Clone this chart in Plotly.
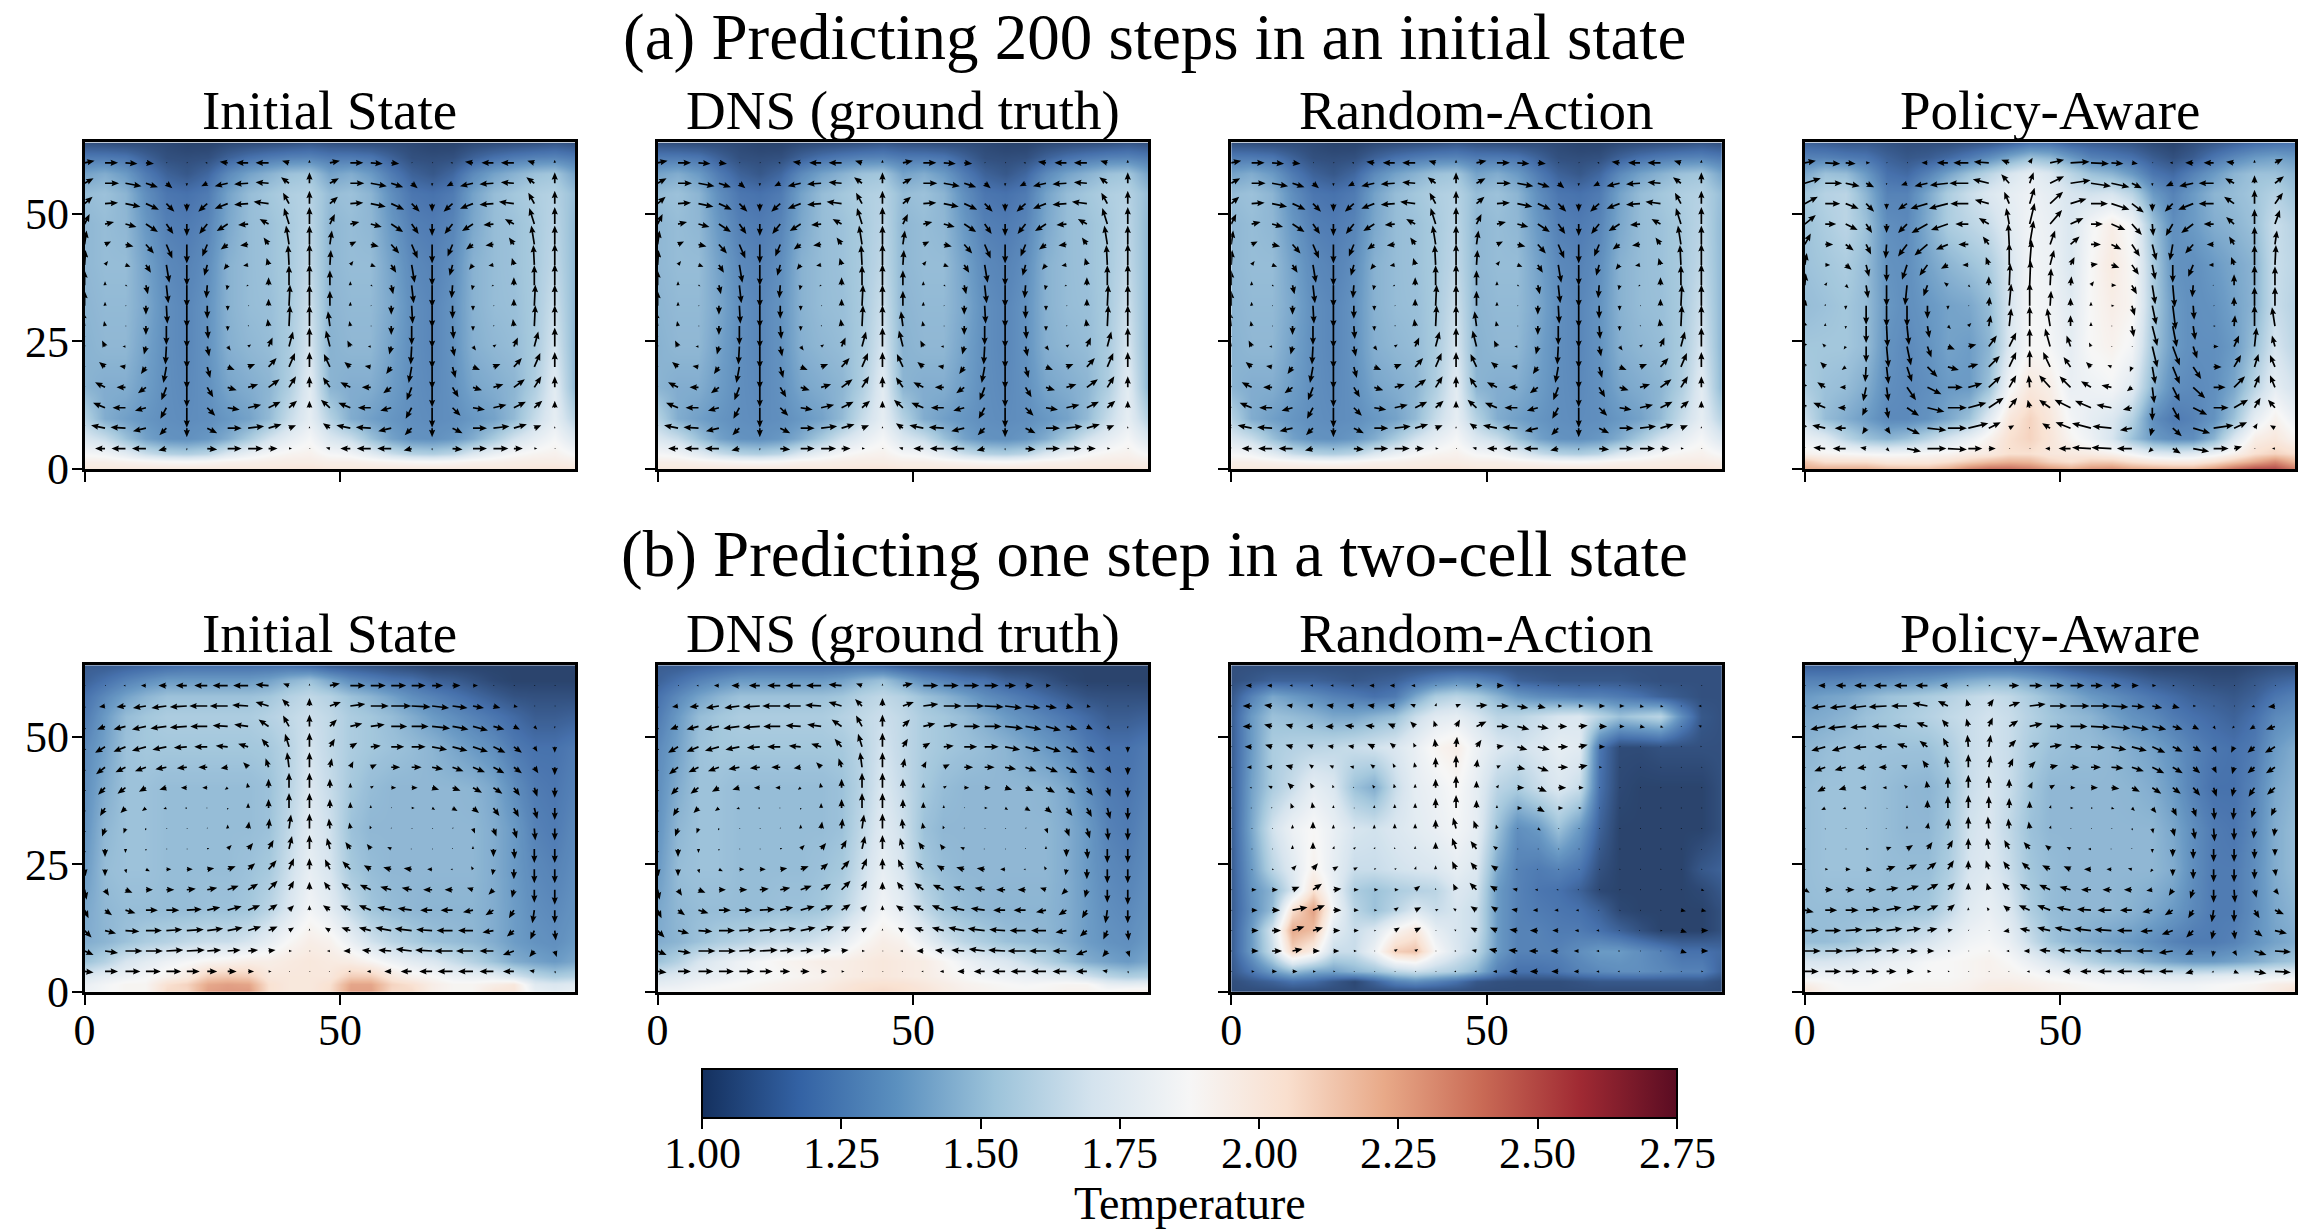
import numpy as np
import plotly.graph_objects as go

# Canvas and panel placement, in pixels
WIDTH, HEIGHT = 2312, 1230
PANEL_LEFT = [84.6, 657.6, 1231.2, 1804.8]
PANEL_W = 490.6
ROW_TOP = [142.4, 665.2]
PANEL_H = 326.6
PX_PER_UNIT = PANEL_W / 96.0

SERIF = "Liberation Serif"
COLUMN_TITLES = ["Initial State", "DNS (ground truth)", "Random-Action", "Policy-Aware"]
ROW_TITLES = ["(a) Predicting 200 steps in an initial state",
              "(b) Predicting one step in a two-cell state"]
X_TICKS = [0, 50]
Y_TICKS = [0, 25, 50]
CBAR_TICKS = [1.0, 1.25, 1.5, 1.75, 2.0, 2.25, 2.5, 2.75]
CBAR_LABELS = ["1.00", "1.25", "1.50", "1.75", "2.00", "2.25", "2.50", "2.75"]
CBAR_TITLE = "Temperature"

TEMP_COLORS = ["#14305e", "#3362a4", "#5b90bf", "#9cc3da", "#d4e3ee", "#f6f6f6",
               "#f9dfce", "#e8a988", "#c96a55", "#a02a33", "#5a0c22"]

# Velocity sample positions
ARROW_X = list(range(0, 96, 4))
ARROW_Y = list(range(60, 0, -4))

# Temperature sample positions (hundredths of a degree below), rows listed top to bottom
TEMP_X = list(range(0, 100, 4))
TEMP_Y = [64, 61, 58, 54, 48, 40, 32, 24, 16, 10, 6, 3, 1.5, 0]
RANDOM_TEMP_Y = [64, 61, 58, 54, 48, 40, 32, 24, 20, 16, 12, 8, 4, 2, 0]

# Four-cell state: one 48-unit wide pair of rolls, repeated across the box
four_cell_temp = [
    [105,104,103,103,102,100,100,102,103,104,105,107],
    [122,122,120,112,105,104,105,112,118,122,125,126],
    [138,142,135,122,112,108,114,128,138,144,150,152],
    [148,150,145,130,120,118,122,138,148,152,156,158],
    [146,148,146,134,124,122,126,140,148,150,154,160],
    [146,148,148,138,128,125,130,144,148,150,154,162],
    [145,147,147,140,130,127,132,144,148,149,154,166],
    [144,146,146,138,130,127,132,143,146,148,154,170],
    [145,142,142,136,130,128,131,139,142,145,156,176],
    [158,142,137,133,130,129,130,134,138,147,164,178],
    [172,165,150,138,132,131,134,142,154,168,178,186],
    [186,184,176,165,158,156,160,172,180,186,190,192],
    [194,194,192,190,188,187,189,192,193,195,196,196],
    [200,200,200,200,200,200,200,200,200,200,201,202],
]
four_cell_u = [
    [10,13,12,8,1,0,-2,-8,-12,-13,-7,0],
    [9,14,16,12,6,0,-6,-13,-14,-13,-8,0],
    [8,13,15,13,8,0,-9,-13,-14,-15,-6,0],
    [5,9,11,12,7,0,-8,-11,-10,-9,-5,0],
    [2,6,8,8,6,0,-5,-7,-8,-5,-3,0],
    [1,3,5,5,3,0,-3,-4,-5,-2,-1,0],
    [0,0,2,2,2,0,-1,-1,-2,0,0,0],
    [0,0,0,0,1,0,0,0,0,0,1,0],
    [-2,-1,0,0,0,0,1,0,1,-1,1,0],
    [-4,-3,-3,-2,-1,0,2,3,3,4,4,0],
    [-6,-6,-6,-5,-3,0,3,7,7,8,6,0],
    [-7,-10,-9,-8,-5,0,6,9,10,11,7,0],
    [-9,-12,-13,-11,-6,0,8,12,13,12,8,0],
    [-7,-14,-15,-13,-7,0,10,14,16,13,7,0],
    [-4,-10,-14,-14,-8,0,10,14,15,9,3,0],
]
four_cell_v = [
    [2,0,-1,-1,0,0,0,1,0,0,2,3],
    [5,0,-3,-4,-5,-3,-3,-3,-1,1,6,11],
    [7,1,-3,-6,-8,-8,-8,-5,-1,2,11,13],
    [10,2,-3,-8,-10,-12,-10,-7,-1,5,16,17],
    [14,3,-2,-9,-14,-19,-12,-5,-1,7,19,19],
    [15,4,-2,-8,-18,-21,-11,-5,-1,7,20,21],
    [15,4,-1,-9,-18,-22,-13,-5,-1,8,20,21],
    [15,4,0,-9,-18,-22,-13,-5,0,7,21,21],
    [15,5,0,-9,-19,-22,-13,-5,1,7,21,21],
    [16,6,0,-8,-18,-22,-10,-4,2,9,15,19],
    [13,5,1,-7,-16,-22,-11,-3,3,9,14,15],
    [10,5,0,-6,-13,-20,-10,-3,3,8,11,11],
    [8,5,0,-3,-11,-20,-8,-2,3,6,7,7],
    [5,3,1,-3,-7,-9,-5,0,2,4,3,2],
    [1,0,0,0,-2,-2,-1,0,0,0,0,0],
]

# Policy-aware prediction of the four-cell state
policy_a_temp = [
    [112,110,108,108,106,104,104,104,106,108,112,118,118,112,110,108,106,102,100,104,108,112,116,118,120],
    [125,125,122,120,112,108,110,115,122,130,140,150,146,135,125,122,118,110,105,110,120,128,135,138,135],
    [140,150,148,135,118,115,125,138,150,160,170,178,172,160,150,145,135,120,115,125,135,145,150,150,145],
    [152,158,160,145,125,125,140,155,165,172,178,182,178,170,168,170,160,135,125,135,145,148,152,158,150],
    [150,155,160,150,130,128,142,155,160,165,175,184,180,172,185,195,185,150,130,135,142,145,150,165,158],
    [150,152,155,148,132,130,138,145,150,155,170,185,182,172,188,198,188,155,132,130,135,140,145,165,160],
    [148,150,152,148,134,130,134,138,140,148,170,186,184,175,188,195,190,155,135,130,132,138,145,165,158],
    [152,152,152,148,132,128,132,138,136,145,172,188,186,178,188,192,185,152,135,130,130,135,150,170,160],
    [155,150,148,142,130,128,130,135,135,150,185,200,195,180,182,185,175,145,130,128,130,140,160,178,168],
    [165,148,142,136,128,128,132,140,150,175,200,210,200,185,178,172,158,130,122,125,132,150,178,192,180],
    [180,175,160,150,145,150,160,170,180,192,205,210,202,190,182,170,150,135,130,130,145,172,195,200,190],
    [192,190,188,186,185,186,188,190,195,198,205,205,200,198,196,192,185,175,172,175,182,192,205,210,205],
    [215,205,205,205,200,200,200,205,212,218,222,220,210,205,212,212,205,200,198,198,205,215,225,235,220],
    [225,225,225,225,220,218,218,225,238,245,245,240,232,225,232,235,228,225,222,222,232,245,255,255,240],
]
policy_a_u = [
    [11,15,10,4,0,0,-6,-11,-15,-15,-8,3,14,19,18,12,6,0,-3,-8,-10,-8,0,8],
    [16,17,14,8,0,-6,-13,-18,-19,-16,-8,4,14,20,20,18,10,0,-7,-14,-15,-9,0,9],
    [13,15,13,8,0,-9,-17,-19,-18,-14,-5,5,13,16,17,18,12,0,-8,-15,-15,-10,0,8],
    [11,11,12,6,0,-9,-16,-17,-13,-10,-3,5,12,13,12,14,10,1,-7,-12,-10,-8,0,5],
    [6,8,8,5,-1,-9,-13,-12,-10,-6,-1,4,5,9,10,10,8,4,-3,-8,-7,-5,0,2],
    [2,5,6,3,0,-5,-8,-7,-6,-3,0,2,4,4,7,8,7,3,0,-5,-5,-3,0,1],
    [1,2,3,2,0,-2,-4,-4,2,0,1,1,1,1,3,5,5,3,2,-1,-1,0,0,0],
    [1,0,0,0,0,0,0,0,0,1,2,0,1,0,0,3,3,4,3,1,0,0,0,0],
    [-2,0,0,0,1,2,2,3,3,2,2,0,-3,0,0,0,2,5,4,2,2,1,0,-3],
    [-4,-3,-2,0,2,4,4,7,8,8,7,0,-5,-4,-2,0,0,5,7,4,5,5,2,-3],
    [-4,-5,-4,-1,2,5,10,11,10,11,7,0,-7,-7,-5,-4,-2,3,7,8,8,7,4,-5],
    [-4,-8,-6,-3,2,9,14,15,14,12,7,-1,-11,-11,-10,-10,-5,2,7,12,12,11,5,-5],
    [-4,-12,-8,-4,2,12,17,19,18,15,8,-2,-11,-16,-16,-15,-9,0,7,14,15,14,6,-7],
    [-4,-13,-11,-4,4,13,19,19,20,12,5,0,-8,-15,-19,-19,-12,-2,9,17,20,13,3,-5],
    [-4,-12,-13,-6,3,14,19,19,14,7,1,1,-5,-12,-19,-20,-15,-4,8,16,15,8,0,-3],
]
policy_a_v = [
    [2,-1,-1,0,0,0,0,0,0,1,3,5,3,1,-1,-1,-1,0,0,0,0,1,3,4],
    [5,0,-3,-4,-2,-2,-3,-2,0,4,9,11,7,3,-3,-4,-5,-3,-3,-3,0,5,8,7],
    [7,0,-5,-8,-6,-6,-5,-5,0,4,12,16,12,5,0,-6,-9,-8,-8,-6,0,7,14,11],
    [9,0,-6,-9,-9,-9,-9,-6,0,6,16,21,14,6,0,-6,-11,-12,-12,-9,0,7,15,14],
    [11,0,-6,-10,-14,-12,-11,-5,0,8,21,24,14,8,0,-5,-12,-16,-16,-9,0,8,18,14],
    [12,0,-5,-12,-17,-15,-11,-4,0,8,22,25,15,8,1,-3,-10,-15,-18,-12,0,8,20,20],
    [12,3,-3,-13,-21,-20,-11,3,-2,9,22,25,17,9,4,0,-9,-19,-22,-12,0,11,20,19],
    [6,2,-4,-19,-21,-21,-13,-4,0,9,22,23,15,8,4,0,-10,-19,-24,-14,0,9,19,19],
    [6,3,-3,-17,-21,-19,-12,-3,3,11,18,20,18,11,4,0,-11,-20,-21,-14,0,11,21,19],
    [6,3,-3,-16,-21,-19,-11,-3,2,11,14,18,18,11,4,0,0,-21,-19,-12,0,11,19,11],
    [6,5,-3,-15,-17,-15,-10,-3,3,11,15,17,15,10,5,2,-5,-17,-17,-12,0,12,13,12],
    [6,5,0,-14,-14,-13,-7,0,4,11,12,12,12,11,6,2,-4,-16,-14,-11,0,11,12,12],
    [6,5,0,-8,-11,-8,-4,0,5,10,10,8,8,8,7,3,-2,-13,-13,-7,0,8,10,8],
    [6,3,0,-6,-6,-6,-2,0,5,6,3,1,5,6,5,2,-2,-8,-8,-5,3,6,5,3],
    [2,1,0,1,-3,-3,0,-1,0,0,0,0,0,0,1,1,0,-4,-5,-3,0,2,0,0],
]

# Two-cell state
two_cell_temp = [
    [110,110,112,114,116,118,118,118,118,118,118,115,110,108,106,104,102,100,100,100,100,100,100,100,100],
    [112,118,125,130,135,135,135,135,135,138,145,150,140,130,125,120,118,112,110,106,102,100,100,100,100],
    [118,128,138,145,150,150,150,150,150,152,158,162,158,150,145,138,130,125,120,115,110,106,105,105,105],
    [122,135,148,152,155,155,155,155,155,158,162,166,162,155,152,148,142,135,130,125,120,115,110,110,112],
    [128,138,150,152,152,152,152,152,152,153,159,169,162,155,152,150,148,145,140,135,130,122,118,118,122],
    [130,142,150,150,148,148,148,148,148,150,159,172,164,153,148,146,146,146,146,145,140,130,122,120,125],
    [132,146,150,150,148,148,148,148,148,150,162,175,167,150,146,146,146,146,146,146,142,135,125,122,128],
    [135,148,150,150,148,148,148,148,150,153,166,179,170,153,148,146,146,146,146,146,142,135,128,125,130],
    [140,146,148,148,148,148,150,150,152,160,172,185,177,163,152,148,146,145,145,145,142,136,130,128,132],
    [142,145,150,155,158,162,165,165,170,178,188,195,192,180,168,160,155,150,148,146,142,136,132,130,135],
    [150,158,170,176,182,186,190,192,195,195,198,200,198,196,190,182,176,172,165,158,150,142,138,135,140],
    [172,178,182,186,192,198,212,214,212,200,200,200,200,212,212,200,192,188,182,180,178,170,160,155,158],
    [180,185,190,190,205,210,225,228,226,205,200,200,205,226,226,210,205,195,190,190,195,200,175,172,175],
    [182,186,190,190,208,208,228,230,230,205,200,200,206,228,228,208,208,195,190,190,202,202,180,176,180],
]
# Lowest three rows of the direct simulation, which differ from the earlier snapshot
dns_bottom_temp = [
    [170,174,178,180,184,186,188,190,192,196,198,200,198,196,192,188,184,182,180,178,176,168,160,156,158],
    [178,180,184,186,188,190,192,194,196,200,204,205,204,200,196,192,190,188,186,188,190,190,180,178,180],
    [186,186,188,190,190,192,194,196,198,203,206,208,206,203,198,194,192,190,190,190,192,192,190,195,195],
]
two_cell_u = [
    [0,0,-2,-5,-8,-11,-13,-15,-15,-13,-6,0,10,15,15,15,14,11,8,5,1,0,0,0],
    [-3,-6,-9,-13,-15,-17,-18,-18,-16,-13,-7,0,11,15,18,20,19,17,15,11,7,4,1,0],
    [-6,-8,-12,-14,-16,-17,-17,-15,-14,-10,-6,0,7,12,14,16,17,18,16,15,11,6,3,0],
    [-6,-10,-12,-14,-14,-13,-13,-12,-10,-7,-4,0,5,7,10,13,14,15,15,15,12,8,3,0],
    [-6,-9,-10,-11,-11,-10,-9,-7,-5,-3,-2,0,2,3,6,9,10,11,11,12,11,8,4,0],
    [-6,-7,-8,-7,-7,-6,-5,-3,-1,0,0,0,0,0,3,5,6,7,8,9,9,6,3,0],
    [-6,-5,-5,-4,-3,-2,-1,0,0,0,0,0,0,0,0,1,3,3,5,6,6,5,3,0],
    [-6,-3,-2,-1,0,0,0,0,1,1,2,0,-1,-1,-1,0,0,1,1,2,3,3,1,0],
    [-6,0,0,0,0,1,2,4,5,5,3,0,-3,-5,-4,-4,-1,0,0,0,0,1,0,0],
    [1,0,1,4,5,6,7,8,7,8,5,0,-5,-8,-7,-8,-8,-5,-2,-2,-1,0,0,0],
    [2,4,7,7,8,9,10,11,10,9,5,0,-6,-9,-11,-11,-10,-9,-8,-6,-5,-2,0,0],
    [4,7,10,12,13,15,13,14,12,9,5,0,-7,-10,-12,-14,-14,-12,-12,-10,-8,-5,-2,0],
    [7,11,14,16,16,17,16,15,13,9,5,0,-5,-9,-12,-16,-17,-16,-16,-15,-11,-7,-4,1],
    [9,13,17,17,17,18,14,13,10,7,3,0,-3,-7,-9,-13,-16,-17,-18,-17,-14,-11,-5,2],
    [9,13,15,15,15,13,10,9,6,3,1,0,-1,-2,-4,-7,-11,-13,-15,-15,-14,-11,-5,1],
]
two_cell_v = [
    [0,0,0,0,0,0,0,0,0,1,2,2,2,0,0,0,0,0,0,0,0,0,0,0],
    [-3,-1,-1,-2,-2,-1,0,0,1,4,7,8,4,2,0,0,-1,-2,-2,-2,-2,-1,0,0],
    [-4,-3,-3,-3,-2,-1,0,1,2,7,11,12,7,3,2,0,0,-2,-3,-4,-3,-3,-3,-2],
    [-5,-6,-5,-4,-3,-1,0,1,3,8,13,14,8,4,1,0,0,-3,-4,-5,-6,-6,-5,-6],
    [-6,-7,-5,-4,-2,-1,0,-1,5,9,15,15,9,6,3,0,0,-2,-4,-5,-6,-6,-6,-8],
    [-6,-7,-6,-4,-2,0,0,-2,5,9,15,15,9,5,2,0,0,-2,-3,-5,-6,-8,-9,-10],
    [-6,-8,-5,-3,-1,0,0,-2,5,9,15,15,9,6,3,1,0,-2,-3,-5,-8,-9,-11,-12],
    [-6,-8,-5,-2,0,0,1,4,7,10,14,15,10,6,3,1,0,0,1,-5,-8,-10,-12,-12],
    [-6,-8,-4,-2,0,0,1,4,6,9,13,14,11,7,5,2,0,0,1,3,-8,-10,-14,-14],
    [-7,-7,-4,-2,0,0,1,3,6,9,11,11,10,8,4,2,1,0,0,3,-6,-10,-14,-14],
    [-10,-6,-3,0,0,1,2,4,6,9,9,8,8,7,5,3,2,0,0,2,-5,-8,-13,-15],
    [-8,-5,-3,0,0,1,3,4,5,6,5,5,5,5,5,3,2,0,0,-2,-5,-8,-13,-13],
    [-7,-3,-1,0,1,1,2,3,4,4,3,2,3,3,3,3,2,1,0,0,-2,-6,-9,-10],
    [-4,-2,0,0,1,1,1,1,1,1,0,0,0,0,1,1,2,1,0,0,0,-4,-6,-6],
    [-1,0,0,0,0,0,0,0,0,0,0,0,0,0,0,0,0,0,0,0,0,0,1,-2],
]

# Random-action prediction of the two-cell state
random_b_temp = [
    [105,105,105,105,105,105,105,105,105,105,105,105,105,105,105,105,105,105,105,105,105,105,105,105,105],
    [105,108,112,112,112,110,108,110,112,118,125,130,128,122,112,110,108,108,108,108,106,105,105,105,105],
    [108,125,140,135,130,125,122,118,122,140,155,160,155,145,135,130,128,125,125,122,118,112,108,105,105],
    [110,135,150,148,145,140,140,145,150,165,175,178,170,160,160,165,170,172,160,150,155,160,130,108,105],
    [110,135,155,158,160,162,165,168,172,180,190,195,182,172,168,172,178,175,120,103,103,105,105,105,105],
    [110,138,155,165,178,172,150,142,165,178,182,188,178,160,155,165,172,165,118,102,100,100,100,100,105],
    [110,140,168,182,188,180,170,168,172,176,180,185,178,150,130,135,150,135,112,100,100,100,100,100,105],
    [110,135,160,175,192,178,165,165,168,170,172,178,172,140,125,122,125,120,105,100,100,100,100,108,112],
    [110,132,145,170,205,180,155,150,155,158,160,172,168,135,125,120,118,112,102,100,100,100,100,102,108],
    [110,130,148,205,228,185,160,150,160,172,165,170,165,135,125,122,120,118,112,102,100,100,100,100,105],
    [110,135,170,225,218,175,165,172,190,200,178,170,165,135,125,125,122,122,118,112,105,100,100,100,105],
    [110,135,165,210,195,165,165,182,212,216,188,172,160,135,125,125,125,130,135,135,130,125,118,118,115],
    [108,120,135,148,140,138,145,150,160,165,160,155,145,125,118,118,120,125,128,130,130,128,125,125,112],
    [104,108,112,118,115,108,102,112,125,130,125,118,108,105,104,104,104,106,108,108,108,108,108,108,104],
    [103,103,103,103,103,103,103,103,103,103,103,103,103,103,103,103,103,103,103,103,103,103,103,103,103],
]
random_b_u = [
    [0,-6,-5,-3,-3,-3,-3,-5,-5,-4,0,0,6,7,3,1,1,0,0,0,0,0,0,0],
    [0,-9,-8,-6,-6,-7,-7,-7,-7,-5,1,5,11,12,11,8,4,5,6,5,4,3,0,-3],
    [0,-9,-8,-7,-7,-8,-9,-9,-7,-5,-2,4,10,12,12,11,9,9,8,5,5,3,0,-3],
    [0,-7,-7,-7,-6,-6,-6,-7,-5,-2,-1,1,5,7,10,12,10,9,6,1,1,0,0,-1],
    [0,-5,-6,-7,-4,-4,-4,-4,-2,-1,0,0,1,4,8,11,10,9,3,0,0,0,0,0],
    [0,-2,-4,-5,-3,-1,-1,-2,-1,0,0,0,0,2,7,9,8,5,1,0,0,0,0,0],
    [0,-1,-1,-2,-1,0,0,0,0,0,0,0,0,0,5,7,5,3,0,0,0,0,0,0],
    [0,0,0,0,0,0,1,0,0,0,0,-3,-3,-1,0,3,0,0,0,0,0,0,0,0],
    [0,0,0,0,0,1,2,1,0,0,0,-4,-6,-4,0,0,0,0,0,0,0,0,0,0],
    [0,1,2,4,5,5,4,2,2,1,0,-4,-6,-6,-2,-1,0,0,0,0,0,0,0,0],
    [0,5,6,7,9,8,5,4,4,5,0,-3,-7,-7,-5,-3,-2,-1,0,0,0,0,0,3],
    [0,6,8,15,12,8,5,3,4,6,3,-3,-6,-6,-6,-5,-4,-3,-1,0,0,0,5,5],
    [0,7,9,12,10,7,5,2,5,6,1,-2,-6,-7,-8,-8,-6,-4,-3,-1,-1,2,6,7],
    [0,7,10,10,7,6,3,1,3,3,0,-2,-5,-8,-9,-9,-8,-5,-3,-2,0,1,6,7],
    [0,3,5,5,3,2,1,1,1,1,0,-2,-2,-4,-8,-8,-7,-5,-3,-2,-1,0,0,2],
]
random_b_v = [
    [0,0,0,0,0,0,0,0,0,0,0,0,0,0,0,0,0,0,0,0,0,0,0,0],
    [0,0,1,1,1,1,1,1,1,2,3,2,1,0,-2,-2,0,0,0,0,-1,-1,0,0],
    [0,0,2,2,0,0,1,1,3,5,6,7,5,0,-3,-2,0,1,0,0,-1,-1,0,1],
    [0,0,2,2,2,1,1,3,4,4,8,10,7,1,-3,-3,0,2,0,0,0,0,0,1],
    [0,0,1,2,3,2,1,3,4,5,10,12,8,2,-2,-4,0,2,0,0,0,0,0,0],
    [0,0,2,5,5,3,1,3,4,4,9,12,7,3,0,-4,0,0,0,0,0,0,0,0],
    [0,0,1,5,6,3,0,3,4,5,10,13,8,3,0,-4,0,0,0,0,0,0,0,0],
    [0,0,0,4,7,4,2,4,5,5,9,11,8,4,0,-2,0,0,0,0,0,0,0,0],
    [0,0,0,4,7,3,2,2,2,3,7,11,8,3,0,0,0,0,0,0,0,0,0,-1],
    [0,-1,0,4,6,3,2,1,1,3,4,8,7,4,0,0,0,0,0,0,0,0,0,0],
    [0,0,0,3,6,1,0,0,0,4,2,6,7,4,1,0,0,0,0,0,0,0,0,-1],
    [0,0,0,3,5,0,0,0,3,3,1,2,4,4,1,0,0,0,0,0,0,0,-1,-1],
    [0,0,0,4,3,0,0,0,3,3,0,1,3,3,1,0,0,0,0,0,0,0,-2,0],
    [0,0,0,2,0,0,0,0,2,2,0,0,1,2,1,0,0,0,0,0,0,0,-2,0],
    [0,0,0,0,0,0,0,0,0,0,0,0,0,0,0,0,0,0,0,0,0,0,0,0],
]

# Policy-aware prediction of the two-cell state
policy_b_temp = [
    [112,112,112,114,114,116,116,116,118,118,118,116,112,108,106,104,102,100,100,100,100,100,102,104,104],
    [125,125,126,128,130,132,134,138,142,145,145,140,135,128,122,118,114,110,108,106,104,104,108,112,115],
    [135,138,140,145,150,152,155,158,162,165,162,155,148,142,135,130,125,120,116,112,110,108,112,120,125],
    [140,142,145,150,152,155,158,162,165,168,165,158,152,148,145,138,132,128,122,118,115,112,118,128,132],
    [145,148,150,150,150,150,150,155,165,168,165,155,150,148,148,146,142,138,132,125,120,118,122,135,142],
    [148,150,150,150,148,146,145,150,165,170,165,152,146,146,146,146,145,142,135,125,118,118,126,140,145],
    [148,150,150,150,148,146,146,152,168,172,162,150,146,146,146,146,146,146,140,130,122,120,128,142,148],
    [148,150,150,150,148,148,148,155,170,174,165,152,148,146,146,146,146,146,142,130,122,122,130,142,148],
    [148,148,148,148,148,150,152,162,175,180,172,156,148,146,146,146,144,140,135,128,122,122,130,140,145],
    [148,148,150,155,160,165,170,178,184,186,180,165,152,146,142,138,135,130,125,122,122,125,132,138,142],
    [170,170,172,176,180,182,186,188,190,192,188,180,172,165,158,152,148,142,138,135,135,138,142,148,152],
    [182,184,184,184,186,186,188,188,190,192,192,190,186,184,182,180,178,176,174,174,176,178,180,182,182],
    [195,190,186,186,188,190,190,190,192,196,196,194,192,190,188,186,186,184,184,184,186,188,190,195,198],
    [205,192,188,188,190,190,192,192,194,198,200,198,194,192,190,188,188,188,186,186,188,190,192,198,206],
]
policy_b_u = [
    [0,-7,-10,-12,-13,-13,-12,-8,-2,2,10,13,14,14,12,10,7,4,2,1,0,0,0,0],
    [0,-14,-16,-17,-18,-16,-15,-10,-2,5,11,16,17,19,19,17,13,10,7,3,0,0,-3,-7],
    [0,-15,-18,-16,-15,-14,-11,-6,-2,4,9,13,14,17,19,19,17,14,10,6,2,-2,-5,-9],
    [0,-14,-14,-13,-12,-10,-8,-5,-1,2,7,10,12,12,14,15,15,13,10,8,3,-3,-7,-10],
    [0,-11,-11,-9,-8,-6,-5,-2,0,2,4,6,8,9,10,12,12,12,10,7,3,-2,-7,-9],
    [0,-8,-7,-6,-4,-3,-1,0,0,0,0,3,5,5,7,8,8,9,8,7,3,-2,-6,-8],
    [0,-4,-3,-2,1,0,0,0,0,0,0,0,1,3,2,3,3,4,4,3,1,-1,-3,-4],
    [0,0,0,0,-1,0,1,1,0,-1,-1,-1,1,0,0,0,1,1,2,2,1,0,-1,-1],
    [0,0,1,3,5,6,5,5,0,-2,-5,-6,-5,-4,-3,-1,0,0,0,0,0,0,0,0],
    [0,3,5,6,9,10,9,6,0,-3,-6,-8,-8,-7,-7,-5,-4,-2,0,0,0,0,0,1],
    [5,8,9,10,12,12,11,7,0,-2,-7,-10,-11,-11,-10,-9,-8,-6,-4,-3,0,1,2,4],
    [9,12,13,14,15,14,11,7,0,-2,-6,-11,-13,-14,-14,-14,-12,-10,-8,-5,-2,0,5,9],
    [14,16,17,17,16,14,10,5,1,0,-6,-10,-13,-16,-17,-17,-15,-12,-11,-7,-2,1,8,12],
    [16,18,18,16,13,11,7,3,0,0,-3,-6,-11,-13,-17,-17,-18,-16,-14,-8,-1,3,12,16],
    [14,16,14,13,10,7,4,2,1,0,-1,-3,-5,-8,-11,-14,-15,-15,-14,-8,-2,5,12,16],
]
policy_b_v = [
    [0,0,0,0,0,0,0,0,0,0,0,0,0,0,0,0,0,0,0,0,0,0,0,0],
    [0,-2,-2,-2,-1,0,3,5,7,7,4,2,0,0,0,-1,-1,-2,-2,0,0,0,-1,-1],
    [0,-3,-2,-1,0,1,4,7,8,9,6,3,0,0,-1,-2,-3,-3,-3,-3,-3,-2,-3,-3],
    [0,-4,-4,-1,0,3,6,9,12,12,7,4,2,0,-1,-3,-4,-6,-5,-5,-6,-6,-6,-6],
    [0,-4,-3,-1,0,2,7,11,13,12,9,6,2,0,0,-1,-4,-6,-6,-6,-6,-7,-6,-6],
    [0,-4,-2,0,0,3,7,11,13,12,9,6,3,0,0,-1,-4,-6,-6,-8,-9,-9,-9,-7],
    [0,-2,-1,0,-1,3,8,12,13,12,10,7,3,0,0,-1,-3,-5,-8,-9,-12,-12,-10,-8],
    [0,-1,0,0,0,3,6,10,12,12,10,7,3,0,0,0,-2,-5,-8,-11,-13,-12,-10,-8],
    [0,0,0,0,2,4,7,9,11,11,9,7,4,2,0,0,1,-4,-8,-10,-13,-13,-10,-7],
    [0,0,0,-1,3,5,7,9,9,9,8,7,4,3,0,0,1,-3,-7,-10,-13,-13,-10,-7],
    [-3,0,0,0,2,4,6,7,7,7,7,6,5,3,0,0,0,-1,-6,-9,-13,-13,-8,-5],
    [-2,0,0,1,3,4,5,6,3,3,5,5,5,3,1,0,0,-2,-5,-8,-12,-12,-8,-4],
    [0,0,1,1,2,2,2,1,1,0,-1,2,3,3,2,1,0,-1,-4,-7,-9,-9,-6,-3],
    [0,0,1,1,1,0,0,0,0,0,0,0,1,1,1,0,0,0,-2,-4,-6,-5,-4,-1],
    [0,0,0,0,0,0,0,0,0,0,0,0,0,0,0,0,0,0,0,-2,-1,-2,-2,-1],
]


def tile_period(rows, columns):
    """Repeat a periodic field sideways up to the requested column count."""
    arr = np.array(rows, dtype=float)
    reps = int(np.ceil(columns / arr.shape[1]))
    return np.tile(arr, (1, reps))[:, :columns]


def quiver_polygons(u, v):
    """Closed arrow outlines (tail at the sample point); lengths are in screen pixels."""
    shaft, head_len, head_half, head_axis = 0.85, 7.5, 3.1, 6.7
    xs, ys = [], []
    for i, y0 in enumerate(ARROW_Y):
        for j, x0 in enumerate(ARROW_X):
            du, dv = float(u[i][j]), float(v[i][j])
            length = max(np.hypot(du, dv), 1.2)
            angle = np.arctan2(dv, du)
            k = min(1.0, length / head_len)
            hl, hh, ha, sw = head_len * k, head_half * k, head_axis * k, shaft * k
            along = [0, length - ha, length - hl, length, length - hl, length - ha, 0, 0]
            across = [-sw, -sw, -hh, 0, hh, sw, sw, -sw]
            for a, b in zip(along, across):
                xs.append(x0 + (a * np.cos(angle) - b * np.sin(angle)) / PX_PER_UNIT)
                ys.append(y0 + (a * np.sin(angle) + b * np.cos(angle)) / PX_PER_UNIT)
            xs.append(None)
            ys.append(None)
    return xs, ys


four_t = tile_period(four_cell_temp, 25)
four_u = tile_period(four_cell_u, 24)
four_v = tile_period(four_cell_v, 24)
dns_t = np.array(two_cell_temp, dtype=float)
dns_t[-3:] = np.array(dns_bottom_temp, dtype=float)

panels = [
    (four_t, TEMP_Y, four_u, four_v),
    (four_t, TEMP_Y, four_u, four_v),
    (four_t, TEMP_Y, four_u, four_v),
    (np.array(policy_a_temp, float), TEMP_Y, policy_a_u, policy_a_v),
    (np.array(two_cell_temp, float), TEMP_Y, two_cell_u, two_cell_v),
    (dns_t, TEMP_Y, two_cell_u, two_cell_v),
    (np.array(random_b_temp, float), RANDOM_TEMP_Y, random_b_u, random_b_v),
    (np.array(policy_b_temp, float), TEMP_Y, policy_b_u, policy_b_v),
]

fig = go.Figure()
layout_axes = {}
annotations = []


def paper_xy(px, py):
    return px / WIDTH, 1 - py / HEIGHT


def add_text(text, px, py, size):
    tx, ty = paper_xy(px, py)
    annotations.append(dict(text=text, x=tx, y=ty, xref="paper", yref="paper",
                            xanchor="center", yanchor="middle", showarrow=False,
                            font=dict(family=SERIF, size=size, color="#000000")))


for idx, (temp, temp_y, u, v) in enumerate(panels):
    row, col = divmod(idx, 4)
    n = idx + 1
    suffix = "" if n == 1 else str(n)
    fig.add_trace(go.Heatmap(
        x=TEMP_X, y=temp_y[::-1], z=(temp[::-1] / 100.0).tolist(),
        coloraxis="coloraxis", zsmooth="best", opacity=0.9,
        xaxis="x" + suffix, yaxis="y" + suffix, hoverinfo="skip",
    ))
    xs, ys = quiver_polygons(u, v)
    fig.add_trace(go.Scatter(
        x=xs, y=ys, mode="lines", fill="toself", fillcolor="#000000",
        line=dict(width=0, color="#000000"), xaxis="x" + suffix, yaxis="y" + suffix,
        hoverinfo="skip", showlegend=False,
    ))
    left, top = PANEL_LEFT[col], ROW_TOP[row]
    x0, y1 = paper_xy(left, top)
    x1, y0 = paper_xy(left + PANEL_W, top + PANEL_H)
    common = dict(showline=True, mirror=True, linecolor="#000000", linewidth=2.5,
                  ticks="outside", ticklen=10, tickwidth=2, tickcolor="#000000",
                  showgrid=False, zeroline=False,
                  tickfont=dict(family=SERIF, size=44, color="#000000"))
    layout_axes["xaxis" + suffix] = dict(
        common, domain=[x0, x1], range=[0, 96], anchor="y" + suffix,
        tickmode="array", tickvals=X_TICKS, showticklabels=row == 1,
        ticklabelstandoff=-12)
    layout_axes["yaxis" + suffix] = dict(
        common, domain=[y0, y1], range=[0, 64], anchor="x" + suffix,
        tickmode="array", tickvals=Y_TICKS, showticklabels=col == 0,
        ticklabelstandoff=-6)
    add_text(COLUMN_TITLES[col], left + PANEL_W / 2, top - 32, 55)

for title, py in zip(ROW_TITLES, [37, 554]):
    add_text(title, 1154, py, 65)

# Colour bar: gradient and ticks from the shared colour axis, labels placed by value
CBAR_LEFT, CBAR_W, CBAR_TOP = 702, 975, 1069
for tick, label in zip(CBAR_TICKS, CBAR_LABELS):
    add_text(label, CBAR_LEFT + CBAR_W * (tick - 1.0) / 1.75, 1153, 44)
add_text(CBAR_TITLE, CBAR_LEFT + CBAR_W / 2, 1203, 46)

scale = [[i / (len(TEMP_COLORS) - 1), c] for i, c in enumerate(TEMP_COLORS)]
cb_x, cb_y = paper_xy(CBAR_LEFT, CBAR_TOP)
fig.update_layout(
    width=WIDTH, height=HEIGHT, margin=dict(l=0, r=0, t=0, b=0, autoexpand=False),
    paper_bgcolor="#ffffff", plot_bgcolor="#ffffff", showlegend=False,
    annotations=annotations,
    coloraxis=dict(
        cmin=1.0, cmax=2.75, colorscale=scale,
        colorbar=dict(
            orientation="h", x=cb_x, y=cb_y, xanchor="left", yanchor="top",
            lenmode="pixels", len=CBAR_W, thicknessmode="pixels", thickness=49,
            xpad=0, ypad=0, outlinewidth=2, outlinecolor="#000000",
            ticks="outside", ticklen=10, tickwidth=2, tickcolor="#000000",
            tickmode="array", tickvals=CBAR_TICKS, showticklabels=False,
        ),
    ),
    **layout_axes,
)

fig.write_html("out.html")
